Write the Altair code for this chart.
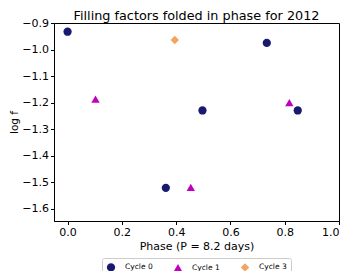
import altair as alt
import pandas as pd

cycles = ["Cycle 0"] * 5 + ["Cycle 1"] * 3 + ["Cycle 3"]
phase = [0.0, 0.734, 0.497, 0.848, 0.362, 0.103, 0.817, 0.454, 0.395]
logf = [-0.933, -0.975, -1.230, -1.230, -1.522, -1.187, -1.200, -1.520, -0.964]

df = pd.DataFrame({"cycle": cycles, "phase": phase, "logf": logf})

FONT = "DejaVu Sans"
DOMAIN = ["Cycle 0", "Cycle 1", "Cycle 3"]

chart = alt.Chart(df).mark_point(filled=True, opacity=1).encode(
    x=alt.X("phase:Q", title="Phase (P = 8.2 days)",
            scale=alt.Scale(domain=[-0.05, 1.0], nice=False, zero=False),
            axis=alt.Axis(values=[0.0, 0.2, 0.4, 0.6, 0.8, 1.0], format=".1f")),
    y=alt.Y("logf:Q", title="log f",
            scale=alt.Scale(domain=[-1.647, -0.9], nice=False, zero=False),
            axis=alt.Axis(values=[-0.9, -1.0, -1.1, -1.2, -1.3, -1.4, -1.5, -1.6], format=".1f",
                          titlePadding=2, titleFontSize=10.5)),
    color=alt.Color("cycle:N", title=None,
                    scale=alt.Scale(domain=DOMAIN, range=["#191970", "#bf00bf", "#f4a460"]),
                    legend=alt.Legend(orient="none", direction="horizontal", legendX=48, legendY=235,
                                      strokeColor="#cccccc", padding=4, cornerRadius=2,
                                      labelFont=FONT, labelFontSize=7.5,
                                      columnPadding=20, labelOffset=9)),
    shape=alt.Shape("cycle:N",
                    scale=alt.Scale(domain=DOMAIN, range=["circle", "triangle-up", "diamond"]),
                    legend=None),
    size=alt.Size("cycle:N", scale=alt.Scale(domain=DOMAIN, range=[68, 72, 180]), legend=None),
).properties(
    width=285, height=198,
    title=alt.TitleParams("Filling factors folded in phase for 2012", font=FONT,
                          fontSize=12.8, fontWeight="normal", offset=-16, frame="group",
                          baseline="alphabetic", color="black"),
    autosize=alt.AutoSizeParams(type="none"),
    padding={"left": 46, "top": 15, "right": 4, "bottom": 50},
).configure_view(stroke="black", strokeWidth=1).configure_axis(
    grid=False, labelFont=FONT, titleFont=FONT, labelFontSize=11, titleFontSize=11,
    titleFontWeight="normal", labelColor="black", titleColor="black",
    domainColor="black", tickColor="black", tickSize=3.5, labelPadding=2,
).configure_axisX(titlePadding=3)

chart.save("out.html", embed_options={"renderer": "svg", "actions": False})
